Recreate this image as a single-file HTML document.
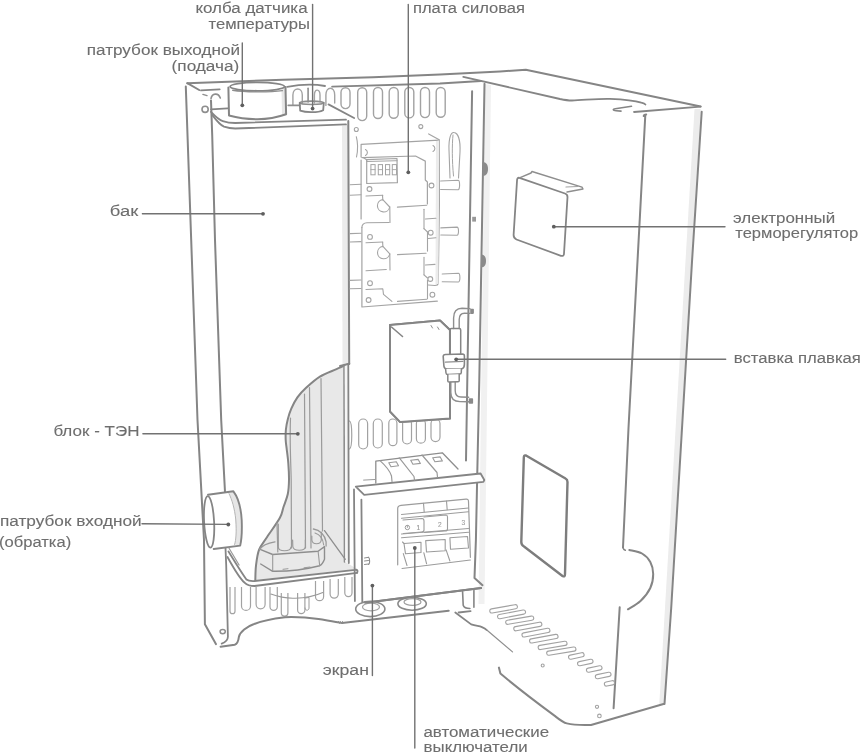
<!DOCTYPE html>
<html><head><meta charset="utf-8"><style>
html,body{margin:0;padding:0;background:#fff;}
svg{display:block;}
text{font-family:"Liberation Sans",sans-serif;font-size:15.2px;fill:#6e6e6e;stroke:#6e6e6e;stroke-width:0.1px;}
svg{filter:grayscale(1);}
</style></head><body>
<svg width="861" height="752" viewBox="0 0 861 752">

<path d="M342,126 L348,125 L348.5,364 L342.5,366 Z" fill="#ebebeb" stroke="none"/>
<path d="M485,84 L491,85 L484.5,604 L478.5,604 Z" fill="#f1f1f1" stroke="none"/>
<path d="M694.5,109 L700.8,109 L664.3,704 L659.3,704 Z" fill="#ececec" stroke="none"/>
<path d="M281.5,88 L285.5,87.5 L286,114 L282,115 Z" fill="#e7e7e7" stroke="none"/>
<path d="M349.2,363.8 C347.08,364.68 341.38,366.97 336.5,369.1 C331.62,371.23 324.97,373.48 319.9,376.6 C314.83,379.72 309.85,384.33 306.1,387.8 C302.35,391.27 299.87,393.92 297.4,397.4 C294.93,400.88 292.90,405.07 291.3,408.7 C289.70,412.33 288.70,415.73 287.8,419.2 C286.90,422.67 286.25,426.03 285.9,429.5 C285.55,432.97 285.58,436.88 285.7,440 C285.82,443.12 286.17,444.35 286.6,448.2 C287.03,452.05 287.90,457.80 288.3,463.1 C288.70,468.40 289.08,474.85 289,480 C288.92,485.15 288.72,489.50 287.8,494 C286.88,498.50 284.82,503.03 283.5,507 C282.18,510.97 282.63,512.80 279.9,517.8 C277.17,522.80 270.57,531.68 267.1,537 C263.63,542.32 260.95,544.92 259.1,549.7 C257.25,554.48 256.63,560.65 256,565.7 C255.37,570.75 255.42,577.62 255.3,580 L357,569 L345.5,562 L345,364 Z" fill="#e8e8e8" stroke="none"/>
<path d="M185.8,86.5 L191.2,240 L197.5,420 L204,540 L204.9,624.3 L215.9,644.1" fill="none" stroke="#858585" stroke-width="2" stroke-linecap="round" stroke-linejoin="round" />
<path d="M187.3,83.2 L283,79.8 L373,77.2 L440,74.4 L500,71.5 L525.8,69.8 L700.6,106.5" fill="none" stroke="#858585" stroke-width="2" stroke-linecap="round" stroke-linejoin="round" />
<path d="M187.3,83.2 L199.2,90" fill="none" stroke="#858585" stroke-width="2" stroke-linecap="round" stroke-linejoin="round" />
<path d="M201,90.4 L219.7,89.4" fill="none" stroke="#858585" stroke-width="1.8" stroke-linecap="round" stroke-linejoin="round" />
<path d="M202.9,94.4 L207,95.6" fill="none" stroke="#8e8e8e" stroke-width="1.4" stroke-linecap="round" stroke-linejoin="round" />
<path d="M211,98.5 C212,93.5 218,92 220.3,98" fill="none" stroke="#8e8e8e" stroke-width="1.6" stroke-linecap="round" stroke-linejoin="round" />
<circle cx="205.1" cy="109.3" r="3.1" fill="none" stroke="#8e8e8e" stroke-width="1.6"/>
<path d="M211,109.3 L227.7,108.3" fill="none" stroke="#858585" stroke-width="1.8" stroke-linecap="round" stroke-linejoin="round" />
<path d="M287.2,86.8 C300,84.5 315,84.2 325,86" fill="none" stroke="#858585" stroke-width="1.8" stroke-linecap="round" stroke-linejoin="round" />
<path d="M332.1,86.6 L440,83.5 L481,81" fill="none" stroke="#858585" stroke-width="1.8" stroke-linecap="round" stroke-linejoin="round" />
<path d="M463.3,76.8 L560,99 C565,100 568,100.6 572,100.5 C585,100 600,98.5 610,98.9 C625,99.5 636,101 641.3,102.7 C643.5,103.3 645,104 645.4,104.5" fill="none" stroke="#858585" stroke-width="1.8" stroke-linecap="round" stroke-linejoin="round" />
<path d="M634,112 L700.6,106.6" fill="none" stroke="#858585" stroke-width="1.8" stroke-linecap="round" stroke-linejoin="round" />
<path d="M631.5,106.3 L615.3,108.7 C612.5,109.2 612.5,110.5 616.1,110.8 L621,111.1" fill="none" stroke="#858585" stroke-width="1.6" stroke-linecap="round" stroke-linejoin="round" />
<path d="M211,100.6 L212.2,135 L215,240 L221.2,420 L225,492" fill="none" stroke="#858585" stroke-width="2" stroke-linecap="round" stroke-linejoin="round" />
<path d="M211,111.8 C215,116 219,120 222.8,121.1 C227,122.5 231,123 235.2,123 L346,119.7" fill="none" stroke="#858585" stroke-width="1.8" stroke-linecap="round" stroke-linejoin="round" />
<path d="M212.2,114.9 C216,120 220,125 224,126.7 C228,128 231,128.5 235.2,128.5 L346,124.4" fill="none" stroke="#858585" stroke-width="1.8" stroke-linecap="round" stroke-linejoin="round" />
<path d="M348.3,121 L349.2,363.8" fill="none" stroke="#858585" stroke-width="2" stroke-linecap="round" stroke-linejoin="round" />
<path d="M349.2,363.8 C347.08,364.68 341.38,366.97 336.5,369.1 C331.62,371.23 324.97,373.48 319.9,376.6 C314.83,379.72 309.85,384.33 306.1,387.8 C302.35,391.27 299.87,393.92 297.4,397.4 C294.93,400.88 292.90,405.07 291.3,408.7 C289.70,412.33 288.70,415.73 287.8,419.2 C286.90,422.67 286.25,426.03 285.9,429.5 C285.55,432.97 285.58,436.88 285.7,440 C285.82,443.12 286.17,444.35 286.6,448.2 C287.03,452.05 287.90,457.80 288.3,463.1 C288.70,468.40 289.08,474.85 289,480 C288.92,485.15 288.72,489.50 287.8,494 C286.88,498.50 284.82,503.03 283.5,507 C282.18,510.97 282.63,512.80 279.9,517.8 C277.17,522.80 270.57,531.68 267.1,537 C263.63,542.32 260.95,544.92 259.1,549.7 C257.25,554.48 256.63,560.65 256,565.7 C255.37,570.75 255.42,577.62 255.3,580" fill="none" stroke="#858585" stroke-width="2" stroke-linecap="round" stroke-linejoin="round" />
<path d="M349.2,363.8 L340,366" fill="none" stroke="#858585" stroke-width="2" stroke-linecap="round" stroke-linejoin="round" />
<path d="M228.4,87.5 L229,115.5 C240,118.5 250,119.2 257.6,119.2 C266,119.2 277,117.5 286.1,114.3 L285.5,86.9" fill="none" stroke="#858585" stroke-width="2" stroke-linecap="round" stroke-linejoin="round" />
<ellipse cx="257.3" cy="86.6" rx="27.2" ry="4.2" fill="none" stroke="#858585" stroke-width="1.8"/>
<path d="M232.7,90.3 C245,92.3 270,92.3 282.4,90.6" fill="none" stroke="#8e8e8e" stroke-width="1.4" stroke-linecap="round" stroke-linejoin="round" />
<path d="M292.9,105.4 L292.9,95 C293,87 302.3,87 302.3,95 L302.3,103" fill="none" stroke="#a2a2a2" stroke-width="1.4" stroke-linecap="round" stroke-linejoin="round" />
<path d="M314.4,103 L314.4,95 C314.5,88 320,89 320,95 L320,102" fill="none" stroke="#a2a2a2" stroke-width="1.4" stroke-linecap="round" stroke-linejoin="round" />
<path d="M308.1,88.2 L308.1,102" fill="none" stroke="#8e8e8e" stroke-width="1.6" stroke-linecap="round" stroke-linejoin="round" />
<path d="M288.2,105.4 L299.7,105.4" fill="none" stroke="#8e8e8e" stroke-width="1.6" stroke-linecap="round" stroke-linejoin="round" />
<ellipse cx="311.7" cy="102.8" rx="12" ry="1.7" fill="none" stroke="#8e8e8e" stroke-width="1.6"/>
<path d="M299.7,102.8 L300.2,110.7 C306,112.8 318,112.8 323.2,110.2 L323.8,102.8" fill="none" stroke="#858585" stroke-width="1.8" stroke-linecap="round" stroke-linejoin="round" />
<path d="M325.9,105.4 L325.9,95 C326,86 334.7,86 334.7,95 L334.7,103" fill="none" stroke="#a2a2a2" stroke-width="1.4" stroke-linecap="round" stroke-linejoin="round" />
<path d="M328.5,104.4 L354.1,118" fill="none" stroke="#858585" stroke-width="1.8" stroke-linecap="round" stroke-linejoin="round" />
<rect x="341" y="87.7" width="9" height="20.89999999999999" rx="4.5" ry="4.5" fill="none" stroke="#a2a2a2" stroke-width="1.4"/>
<rect x="357.7" y="87.7" width="9" height="32.89999999999999" rx="4.5" ry="4.5" fill="none" stroke="#a2a2a2" stroke-width="1.4"/>
<rect x="373.5" y="87.5" width="9" height="31.0" rx="4.5" ry="4.5" fill="none" stroke="#a2a2a2" stroke-width="1.4"/>
<rect x="389.2" y="87.5" width="9" height="30.700000000000003" rx="4.5" ry="4.5" fill="none" stroke="#a2a2a2" stroke-width="1.4"/>
<rect x="404.8" y="87.5" width="9" height="30.400000000000006" rx="4.5" ry="4.5" fill="none" stroke="#a2a2a2" stroke-width="1.4"/>
<rect x="420.5" y="87.5" width="9" height="30.099999999999994" rx="4.5" ry="4.5" fill="none" stroke="#a2a2a2" stroke-width="1.4"/>
<rect x="436.2" y="87.5" width="9" height="29.799999999999997" rx="4.5" ry="4.5" fill="none" stroke="#a2a2a2" stroke-width="1.4"/>
<path d="M472.1,91.2 L467.3,380 L466,460.5" fill="none" stroke="#858585" stroke-width="2" stroke-linecap="round" stroke-linejoin="round" />
<path d="M484.5,83.7 L479.3,380 L477.3,471.8 L475.9,540 L474.5,577.9 L482.5,585.2" fill="none" stroke="#858585" stroke-width="2" stroke-linecap="round" stroke-linejoin="round" />
<path d="M482.6,162 C486.5,162 488,165 488,169 C488,173 486.5,176 482.6,176 Z" fill="#8a8a8a"/>
<path d="M481,254.5 C484.8,254.5 486,257.5 486,261 C486,264.5 484.8,267.5 481,267.5 Z" fill="#8a8a8a"/>
<rect x="472.2" y="216.8" width="3.8" height="4.8" fill="#999"/>
<path d="M701.7,111.7 L692.1,260 L682.5,420 L671.2,608 L664.5,704" fill="none" stroke="#858585" stroke-width="2" stroke-linecap="round" stroke-linejoin="round" />
<path d="M643.7,116 C643.8,114.8 644.8,114.4 646.2,114.4 M645.3,115 L640,214.9 L628.5,428 L623,547.5" fill="none" stroke="#858585" stroke-width="2" stroke-linecap="round" stroke-linejoin="round" />
<path d="M629.3,550 C631.42,550.58 638.50,551.50 642,553.5 C645.50,555.50 648.43,558.58 650.3,562 C652.17,565.42 653.20,569.67 653.2,574 C653.20,578.33 652.42,583.50 650.3,588 C648.18,592.50 644.23,597.45 640.5,601 C636.77,604.55 630.00,607.92 627.9,609.3" fill="none" stroke="#858585" stroke-width="2" stroke-linecap="round" stroke-linejoin="round" />
<path d="M623,547.5 C623.2,549 624,549.8 625.3,550.2" fill="none" stroke="#858585" stroke-width="1.6" stroke-linecap="round" stroke-linejoin="round" />
<path d="M619.7,607.2 L613.6,708.3" fill="none" stroke="#858585" stroke-width="2" stroke-linecap="round" stroke-linejoin="round" />
<path d="M498.9,667.6 L500.4,673.6 C520,690 540,705 554.8,715.9 C560,720 563,722.5 566.8,723.4 C575,725.5 585,725.2 591,725 L663.5,704" fill="none" stroke="#858585" stroke-width="2" stroke-linecap="round" stroke-linejoin="round" />
<path d="M455.3,612.5 L471.2,624.4 C476,626 479,626 481.9,627.1 C484,628 485.5,628.8 486.5,629.8" fill="none" stroke="#858585" stroke-width="1.8" stroke-linecap="round" stroke-linejoin="round" />
<path d="M486.5,629.8 L512.5,651.9" fill="none" stroke="#8e8e8e" stroke-width="1.2" stroke-linecap="round" stroke-linejoin="round" />
<path d="M458.6,612.5 L470.6,611.1" fill="none" stroke="#858585" stroke-width="1.8" stroke-linecap="round" stroke-linejoin="round" />
<rect x="489.8" y="609.2" width="28.0" height="4.2" rx="2.1" ry="2.1" fill="none" stroke="#a2a2a2" stroke-width="1.1" transform="rotate(-10.1 489.8 611.3)"/>
<rect x="497.6" y="614.9" width="28.4" height="4.2" rx="2.1" ry="2.1" fill="none" stroke="#a2a2a2" stroke-width="1.1" transform="rotate(-10.8 497.6 617.0)"/>
<rect x="505.7" y="620.5" width="28.4" height="4.2" rx="2.1" ry="2.1" fill="none" stroke="#a2a2a2" stroke-width="1.1" transform="rotate(-9.7 505.7 622.6)"/>
<rect x="513.8" y="627.0" width="28.5" height="4.2" rx="2.1" ry="2.1" fill="none" stroke="#a2a2a2" stroke-width="1.1" transform="rotate(-10.5 513.8 629.1)"/>
<rect x="522.0" y="633.2" width="28.4" height="4.2" rx="2.1" ry="2.1" fill="none" stroke="#a2a2a2" stroke-width="1.1" transform="rotate(-10.8 522.0 635.3)"/>
<rect x="529.6" y="639.2" width="28.9" height="4.2" rx="2.1" ry="2.1" fill="none" stroke="#a2a2a2" stroke-width="1.1" transform="rotate(-10.4 529.6 641.3)"/>
<rect x="538.2" y="645.7" width="29.2" height="4.2" rx="2.1" ry="2.1" fill="none" stroke="#a2a2a2" stroke-width="1.1" transform="rotate(-9.5 538.2 647.8)"/>
<rect x="546.7" y="651.4" width="29.6" height="4.2" rx="2.1" ry="2.1" fill="none" stroke="#a2a2a2" stroke-width="1.1" transform="rotate(-9.3 546.7 653.5)"/>
<rect x="568.6" y="655.5" width="15.8" height="4.2" rx="2.1" ry="2.1" fill="none" stroke="#a2a2a2" stroke-width="1.1" transform="rotate(-12.0 568.6 657.6)"/>
<rect x="577.6" y="662.0" width="15.7" height="4.2" rx="2.1" ry="2.1" fill="none" stroke="#a2a2a2" stroke-width="1.1" transform="rotate(-11.7 577.6 664.1)"/>
<rect x="586.5" y="668.5" width="15.8" height="4.2" rx="2.1" ry="2.1" fill="none" stroke="#a2a2a2" stroke-width="1.1" transform="rotate(-11.7 586.5 670.6)"/>
<rect x="595.4" y="675.0" width="15.9" height="4.2" rx="2.1" ry="2.1" fill="none" stroke="#a2a2a2" stroke-width="1.1" transform="rotate(-11.6 595.4 677.1)"/>
<rect x="604.4" y="682.3" width="10.3" height="4.2" rx="2.1" ry="2.1" fill="none" stroke="#a2a2a2" stroke-width="1.1" transform="rotate(-11.2 604.4 684.4)"/>
<circle cx="542.7" cy="665.5" r="1.5" fill="none" stroke="#a2a2a2" stroke-width="1.1"/>
<circle cx="597" cy="706.8" r="1.6" fill="none" stroke="#a2a2a2" stroke-width="1.1"/>
<circle cx="599.4" cy="715.9" r="1.8" fill="none" stroke="#a2a2a2" stroke-width="1.1"/>
<path d="M519.5,177.8 C517.5,177.5 517,179 517,181 L513.6,235 C513.6,237 514.5,238.5 516.5,239.5 L561,255.8 C563,256.3 564,255.5 564,253.5 L567.5,197 C567.5,195 566.5,194 565,193.5 Z" fill="none" stroke="#858585" stroke-width="1.8" stroke-linecap="round" stroke-linejoin="round" />
<path d="M519.5,177.8 L531,173 L532,171.5 L582,187.2 L583,189 L567,192" fill="none" stroke="#8e8e8e" stroke-width="1.4" stroke-linecap="round" stroke-linejoin="round" />
<path d="M566,187 L578,186.5" fill="none" stroke="#a2a2a2" stroke-width="1.2" stroke-linecap="round" stroke-linejoin="round" />
<path d="M526,455.5 C524,455 523.8,456 523.8,458 L521.3,542 C521.3,544 522,545.5 524,546.5 L562.5,576 C564.5,577 565,576 565,574 L567.5,482 C567.5,480.5 567,479.3 565.5,478.5 Z" fill="none" stroke="#7d7d7d" stroke-width="2.4" stroke-linecap="round" stroke-linejoin="round" />
<circle cx="356.3" cy="129.5" r="2" fill="none" stroke="#a4a4a4" stroke-width="1.1"/>
<circle cx="420.8" cy="126.6" r="2" fill="none" stroke="#a4a4a4" stroke-width="1.1"/>
<path d="M356.3,136.7 C358,143 358,150 356.5,157" fill="none" stroke="#a4a4a4" stroke-width="1.1" stroke-linecap="round" stroke-linejoin="round" />
<path d="M428.7,133.9 L439.2,139.8" fill="none" stroke="#a4a4a4" stroke-width="1.2" stroke-linecap="round" stroke-linejoin="round" />
<path d="M361.1,157 L361.1,144.4 L439.2,140.2 L439.4,205 L438.2,283.5 C438,285 437,285.5 435,285.5 L428.2,285" fill="none" stroke="#a4a4a4" stroke-width="1.2" stroke-linecap="round" stroke-linejoin="round" />
<path d="M436,141 L439,140.5 L438.5,284 L435.5,284 Z" fill="#ececec" stroke="none"/>
<path d="M361.1,160 L361.1,219" fill="none" stroke="#a4a4a4" stroke-width="1.2" stroke-linecap="round" stroke-linejoin="round" />
<path d="M361.9,227.4 L361.9,307 L437.3,301.1" fill="none" stroke="#a4a4a4" stroke-width="1.2" stroke-linecap="round" stroke-linejoin="round" />
<path d="M365.5,149.5 C368,151 368,154 365.5,155.5" fill="none" stroke="#a4a4a4" stroke-width="1.1" stroke-linecap="round" stroke-linejoin="round" />
<path d="M433,145.5 C435.5,147 435.5,150 433,151.5" fill="none" stroke="#a4a4a4" stroke-width="1.1" stroke-linecap="round" stroke-linejoin="round" />
<path d="M361.8,157.6 L415.5,156 L425.3,161.1 L425.3,180 L427.4,182 L427.4,204" fill="none" stroke="#a4a4a4" stroke-width="1.2" stroke-linecap="round" stroke-linejoin="round" />
<path d="M363.5,157.8 L366.7,159.7 L397,158.5 L397.4,182.7 L366.7,183.5 L366.7,159.7" fill="none" stroke="#a4a4a4" stroke-width="1.2" stroke-linecap="round" stroke-linejoin="round" />
<path d="M366.7,159.7 L366.7,161.5 L397.2,160.7" fill="none" stroke="#a4a4a4" stroke-width="1.0" stroke-linecap="round" stroke-linejoin="round" />
<rect x="370.9" y="164.6" width="4.2" height="10.2" fill="none" stroke="#a4a4a4" stroke-width="1"/>
<line x1="370.9" y1="169.6" x2="375.09999999999997" y2="169.6" stroke="#a4a4a4" stroke-width="0.9" stroke-linecap="round"/>
<rect x="378.3" y="164.6" width="4.2" height="10.2" fill="none" stroke="#a4a4a4" stroke-width="1"/>
<line x1="378.3" y1="169.6" x2="382.5" y2="169.6" stroke="#a4a4a4" stroke-width="0.9" stroke-linecap="round"/>
<rect x="385.5" y="164.6" width="4.2" height="10.2" fill="none" stroke="#a4a4a4" stroke-width="1"/>
<line x1="385.5" y1="169.6" x2="389.7" y2="169.6" stroke="#a4a4a4" stroke-width="0.9" stroke-linecap="round"/>
<rect x="392.3" y="164.6" width="4.2" height="10.2" fill="none" stroke="#a4a4a4" stroke-width="1"/>
<line x1="392.3" y1="169.6" x2="396.5" y2="169.6" stroke="#a4a4a4" stroke-width="0.9" stroke-linecap="round"/>
<circle cx="369.5" cy="189" r="2.4" fill="none" stroke="#a4a4a4" stroke-width="1.1"/>
<circle cx="431.5" cy="185.5" r="2.4" fill="none" stroke="#a4a4a4" stroke-width="1.1"/>
<circle cx="370" cy="236.9" r="2.4" fill="none" stroke="#a4a4a4" stroke-width="1.1"/>
<circle cx="430.7" cy="232.7" r="2.4" fill="none" stroke="#a4a4a4" stroke-width="1.1"/>
<circle cx="370" cy="283.2" r="2.4" fill="none" stroke="#a4a4a4" stroke-width="1.1"/>
<circle cx="430.3" cy="279" r="2.4" fill="none" stroke="#a4a4a4" stroke-width="1.1"/>
<circle cx="368.6" cy="300" r="2.4" fill="none" stroke="#a4a4a4" stroke-width="1.1"/>
<circle cx="432.4" cy="294.7" r="2.4" fill="none" stroke="#a4a4a4" stroke-width="1.1"/>
<path d="M382.8,199.6 A6.2,6.2 0 1 0 389.7,207.0 Z" fill="none" stroke="#a4a4a4" stroke-width="1.1" stroke-linecap="round" stroke-linejoin="round" />
<line x1="382.5" y1="195.39999999999998" x2="382.79999999999995" y2="199.6" stroke="#a4a4a4" stroke-width="1.1" stroke-linecap="round"/>
<path d="M382.9,246.4 A6.2,6.2 0 1 0 389.8,253.8 Z" fill="none" stroke="#a4a4a4" stroke-width="1.1" stroke-linecap="round" stroke-linejoin="round" />
<line x1="382.6" y1="242.2" x2="382.9" y2="246.4" stroke="#a4a4a4" stroke-width="1.1" stroke-linecap="round"/>
<line x1="366" y1="196" x2="382.8" y2="195.3" stroke="#a4a4a4" stroke-width="1.1" stroke-linecap="round"/>
<line x1="397.4" y1="207.1" x2="426.7" y2="205.3" stroke="#a4a4a4" stroke-width="1.1" stroke-linecap="round"/>
<line x1="366" y1="242.7" x2="382.8" y2="242" stroke="#a4a4a4" stroke-width="1.1" stroke-linecap="round"/>
<line x1="397.5" y1="254.6" x2="426.1" y2="253.2" stroke="#a4a4a4" stroke-width="1.1" stroke-linecap="round"/>
<line x1="366" y1="270.7" x2="386.3" y2="269.5" stroke="#a4a4a4" stroke-width="1.1" stroke-linecap="round"/>
<line x1="389.8" y1="253.8" x2="390" y2="270" stroke="#a4a4a4" stroke-width="1.1" stroke-linecap="round"/>
<line x1="397.5" y1="301.4" x2="426.8" y2="299.3" stroke="#a4a4a4" stroke-width="1.1" stroke-linecap="round"/>
<line x1="424" y1="209.2" x2="424" y2="228.7" stroke="#a4a4a4" stroke-width="1.1" stroke-linecap="round"/>
<line x1="427.5" y1="232" x2="427.5" y2="251.1" stroke="#a4a4a4" stroke-width="1.1" stroke-linecap="round"/>
<line x1="424" y1="257.4" x2="424" y2="274.8" stroke="#a4a4a4" stroke-width="1.1" stroke-linecap="round"/>
<line x1="427.5" y1="280" x2="427.5" y2="298.6" stroke="#a4a4a4" stroke-width="1.1" stroke-linecap="round"/>
<line x1="425.4" y1="219" x2="435.9" y2="218.3" stroke="#a4a4a4" stroke-width="1.1" stroke-linecap="round"/>
<line x1="428.2" y1="238.5" x2="435.9" y2="237.8" stroke="#a4a4a4" stroke-width="1.1" stroke-linecap="round"/>
<line x1="425.4" y1="265" x2="435" y2="264.4" stroke="#a4a4a4" stroke-width="1.1" stroke-linecap="round"/>
<line x1="350" y1="184.8" x2="361" y2="184.3" stroke="#a4a4a4" stroke-width="1.1" stroke-linecap="round"/>
<line x1="350" y1="195.3" x2="361" y2="194.8" stroke="#a4a4a4" stroke-width="1.1" stroke-linecap="round"/>
<line x1="350" y1="233.6" x2="361" y2="233.2" stroke="#a4a4a4" stroke-width="1.1" stroke-linecap="round"/>
<line x1="350" y1="242" x2="361" y2="241.6" stroke="#a4a4a4" stroke-width="1.1" stroke-linecap="round"/>
<line x1="350" y1="280.4" x2="361" y2="280" stroke="#a4a4a4" stroke-width="1.1" stroke-linecap="round"/>
<line x1="350" y1="288.8" x2="361" y2="288.5" stroke="#a4a4a4" stroke-width="1.1" stroke-linecap="round"/>
<line x1="389.8" y1="206.8" x2="390" y2="222.5" stroke="#a4a4a4" stroke-width="1.1" stroke-linecap="round"/>
<path d="M361.9,227.4 C362,224 364,223 367,222.8 L389.1,222.5" fill="none" stroke="#a4a4a4" stroke-width="1.1" stroke-linecap="round" stroke-linejoin="round" />
<path d="M424,228.7 L427.5,232" fill="none" stroke="#a4a4a4" stroke-width="1.1" stroke-linecap="round" stroke-linejoin="round" />
<path d="M424,274.8 L427.5,278" fill="none" stroke="#a4a4a4" stroke-width="1.1" stroke-linecap="round" stroke-linejoin="round" />
<path d="M366,289.5 L382.8,288.8 L383.5,294.4 L391.9,301.4" fill="none" stroke="#a4a4a4" stroke-width="1.1" stroke-linecap="round" stroke-linejoin="round" />
<path d="M440.6,181.0 L458.1,180.2 C460.1,180.2 460.1,189.8 458.1,189.7 L440.6,189.5" fill="none" stroke="#a4a4a4" stroke-width="1.1" stroke-linecap="round" stroke-linejoin="round" />
<path d="M440.8,227.9 L457,227.1 C459,227.1 459,235.3 457,235.2 L440.8,235" fill="none" stroke="#a4a4a4" stroke-width="1.1" stroke-linecap="round" stroke-linejoin="round" />
<path d="M442.2,274.0 L458.4,273.2 C460.4,273.2 460.4,282.1 458.4,282.0 L442.2,281.8" fill="none" stroke="#a4a4a4" stroke-width="1.1" stroke-linecap="round" stroke-linejoin="round" />
<path d="M450,178 L449,150 C448.5,138 451,132 454,132.5 C458,133 460.5,140 460,152 L458.5,178" fill="none" stroke="#a4a4a4" stroke-width="1.1" stroke-linecap="round" stroke-linejoin="round" />
<path d="M453,135 C452,145 452,160 453.5,176" fill="none" stroke="#a4a4a4" stroke-width="1.0" stroke-linecap="round" stroke-linejoin="round" />
<path d="M390,325 L440,320.5 L450,330 L450,418.5 L400.2,422.1 L390,411.5 Z" fill="none" stroke="#858585" stroke-width="2" stroke-linecap="round" stroke-linejoin="round" />
<path d="M391.5,327 L402.5,336.5" fill="none" stroke="#858585" stroke-width="1.6" stroke-linecap="round" stroke-linejoin="round" />
<path d="M431,325.5 L432.5,328 M437.5,327 L439,329.5" fill="none" stroke="#8e8e8e" stroke-width="1.0" stroke-linecap="round" stroke-linejoin="round" />
<rect x="358.7" y="419" width="8.900000000000034" height="30" rx="4.450000000000017" ry="4.450000000000017" fill="none" stroke="#a2a2a2" stroke-width="1.2"/>
<rect x="373.3" y="419" width="9.0" height="29" rx="4.5" ry="4.5" fill="none" stroke="#a2a2a2" stroke-width="1.2"/>
<rect x="388.8" y="419" width="8.099999999999966" height="26.69999999999999" rx="4.049999999999983" ry="4.049999999999983" fill="none" stroke="#a2a2a2" stroke-width="1.2"/>
<rect x="402.6" y="419" width="8.899999999999977" height="25" rx="4.449999999999989" ry="4.449999999999989" fill="none" stroke="#a2a2a2" stroke-width="1.2"/>
<rect x="416.4" y="419" width="9.0" height="24.19999999999999" rx="4.5" ry="4.5" fill="none" stroke="#a2a2a2" stroke-width="1.2"/>
<rect x="431" y="419" width="9" height="22.600000000000023" rx="4.5" ry="4.5" fill="none" stroke="#a2a2a2" stroke-width="1.2"/>
<path d="M349.5,421 C352.5,422 352.5,448 349.5,449" fill="none" stroke="#a2a2a2" stroke-width="1.2" stroke-linecap="round" stroke-linejoin="round" />
<path d="M390.5,325.5 L440,321 L449.5,330.5 L449.5,418 L400.5,421.5 L390.5,411 Z" fill="#fff" stroke="none"/>
<path d="M390,325 L440,320.5 L450,330 L450,418.5 L400.2,422.1 L390,411.5 Z" fill="none" stroke="#858585" stroke-width="2" stroke-linecap="round" stroke-linejoin="round" />
<path d="M391.5,327 L402.5,336.5" fill="none" stroke="#858585" stroke-width="1.6" stroke-linecap="round" stroke-linejoin="round" />
<path d="M431,325.5 L432.5,328 M437.5,327 L439,329.5" fill="none" stroke="#8e8e8e" stroke-width="1.0" stroke-linecap="round" stroke-linejoin="round" />
<rect x="470.2" y="308.8" width="3.7" height="5.1" rx="0.8" fill="#8a8a8a"/>
<rect x="468.7" y="398.2" width="4.4" height="5.6" rx="0.8" fill="#8a8a8a"/>
<path d="M453.6,328.5 L453.6,318 C453.6,311.5 457,308.2 462,308.2 L470,308.6" fill="none" stroke="#8e8e8e" stroke-width="1.4" stroke-linecap="round" stroke-linejoin="round" />
<path d="M459.2,328.5 L459.2,319.5 C459.2,315.5 461,313.2 464.5,313.2 L470,313.4" fill="none" stroke="#8e8e8e" stroke-width="1.4" stroke-linecap="round" stroke-linejoin="round" />
<path d="M450.8,381.9 L450.8,392.5 C450.8,398.5 454.5,401.6 460,401.6 L468.7,401.8" fill="none" stroke="#8e8e8e" stroke-width="1.4" stroke-linecap="round" stroke-linejoin="round" />
<path d="M455.2,381.9 L455.2,390.5 C455.2,394.5 457.5,397 461,397 L468.7,397.2" fill="none" stroke="#8e8e8e" stroke-width="1.4" stroke-linecap="round" stroke-linejoin="round" />
<path d="M449.7,353.4 L449.7,330 C449.7,329 450.5,328.5 451.5,328.5 L459.2,328.5 C460.2,328.5 460.7,329 460.7,330 L460.7,353.4" fill="none" stroke="#858585" stroke-width="1.5" stroke-linecap="round" stroke-linejoin="round" />
<path d="M445.5,354.5 L462.5,354 C463.8,354 464.4,354.8 464.4,356 L464.4,364.3 C464.4,366.5 463.5,368.2 462,368.7 L446.5,369 C444.8,368.6 444,367.5 443.9,366 L443.2,356.5 C443.2,355.3 444,354.6 445.5,354.5 Z" fill="#fff" stroke="#858585" stroke-width="1.6" stroke-linecap="round" stroke-linejoin="round" />
<path d="M445.4,362.1 L462.9,361.4" fill="none" stroke="#8e8e8e" stroke-width="1.3" stroke-linecap="round" stroke-linejoin="round" />
<path d="M445.6,369 L446,373 C446.1,374 446.8,374.6 447.8,374.6 L459.7,374 C460.7,374 461.3,373.5 461.3,372.5 L461.4,368.8" fill="#fff" stroke="#858585" stroke-width="1.5" stroke-linecap="round" stroke-linejoin="round" />
<path d="M447.8,374.6 L447.8,381 C447.8,381.7 448.3,382 449,382 L458,381.8 C458.7,381.8 459.2,381.4 459.2,380.8 L459.2,374.2" fill="#fff" stroke="#858585" stroke-width="1.5" stroke-linecap="round" stroke-linejoin="round" />
<path d="M290.5,418 C289.5,440 290.8,460 291.2,480 L291.5,548" fill="none" stroke="#9a9a9a" stroke-width="1.2" stroke-linecap="round" stroke-linejoin="round" />
<path d="M304.5,394 L305.5,548" fill="none" stroke="#9a9a9a" stroke-width="1.2" stroke-linecap="round" stroke-linejoin="round" />
<path d="M309.5,387.5 L311,548" fill="none" stroke="#9a9a9a" stroke-width="1.2" stroke-linecap="round" stroke-linejoin="round" />
<path d="M321,378.5 L322.5,531" fill="none" stroke="#9a9a9a" stroke-width="1.2" stroke-linecap="round" stroke-linejoin="round" />
<path d="M277,523 L277.8,552" fill="none" stroke="#9a9a9a" stroke-width="1.2" stroke-linecap="round" stroke-linejoin="round" />
<path d="M344,366 L344.5,562" fill="none" stroke="#8e8e8e" stroke-width="1.6" stroke-linecap="round" stroke-linejoin="round" />
<path d="M344.8,366 L347.8,365 L348.3,562 L345.3,562 Z" fill="#f6f6f6" stroke="none"/>
<path d="M348.3,364 L348.8,563" fill="none" stroke="#858585" stroke-width="1.8" stroke-linecap="round" stroke-linejoin="round" />
<path d="M324.5,530.6 L345.3,559.3" fill="none" stroke="#8e8e8e" stroke-width="1.3" stroke-linecap="round" stroke-linejoin="round" />
<path d="M278.3,524 L278.3,547 C278.5,552 290.5,552 291,547" fill="none" stroke="#9a9a9a" stroke-width="1.2" stroke-linecap="round" stroke-linejoin="round" />
<path d="M292.6,540 L292.8,546.5 C293.5,551.5 305,551.5 305.4,546.5 L305.4,540" fill="none" stroke="#9a9a9a" stroke-width="1.2" stroke-linecap="round" stroke-linejoin="round" />
<path d="M311.8,536 L311.8,540 C312.5,545 320.5,545 321.3,540 L321.3,532" fill="none" stroke="#9a9a9a" stroke-width="1.2" stroke-linecap="round" stroke-linejoin="round" />
<path d="M259.5,549.5 C262,545.5 268,543 275,541.8 M313.4,529 C320,530 325,535 326.1,541.8 L326.1,546" fill="none" stroke="#9a9a9a" stroke-width="1.3" stroke-linecap="round" stroke-linejoin="round" />
<path d="M315,533 C320,534.5 323,539 323.7,545" fill="none" stroke="#9a9a9a" stroke-width="1.1" stroke-linecap="round" stroke-linejoin="round" />
<path d="M260.7,549.7 L272.7,554.5 L318.1,551.3 L324.5,546.6 L324.5,559.3 C323,563 321.5,565 319.7,565.7 C305,569.5 288,571.5 272.7,571.3 L260.7,564 Z" fill="#e9e9e9" stroke="none"/>
<path d="M260.7,549.7 L272.7,554.5 L318.1,551.3 L324.5,546.6 L324.5,559.3 C323,563 321.5,565 319.7,565.7 C305,569.5 288,571.5 272.7,571.3 L260.7,564" fill="none" stroke="#8e8e8e" stroke-width="1.4" stroke-linecap="round" stroke-linejoin="round" />
<path d="M272.7,554.5 L272.7,571.3 M318.1,551.3 L319.7,565.7" fill="none" stroke="#9a9a9a" stroke-width="1.1" stroke-linecap="round" stroke-linejoin="round" />
<path d="M283,569.3 L288,568.7 M304,567.8 L310,567" fill="none" stroke="#9a9a9a" stroke-width="1.0" stroke-linecap="round" stroke-linejoin="round" />
<path d="M228.5,551.5 C235,562 241,572 246.4,579.5 C248,580.8 250.5,581.2 254.5,581 L355.3,569.8 C357.5,569.5 358,571 357,572.8" fill="none" stroke="#858585" stroke-width="1.8" stroke-linecap="round" stroke-linejoin="round" />
<path d="M227.5,557 C233,567 239,578 244.8,582.8 C247,585 250,586 254.5,586 L357,572.8" fill="none" stroke="#858585" stroke-width="1.8" stroke-linecap="round" stroke-linejoin="round" />
<path d="M230,587 L230,611.2 A2.5,2.5 0 0 0 235,611.2 L235,587" fill="none" stroke="#a2a2a2" stroke-width="1.2"/>
<path d="M241.5,587 L241.5,605.9 A4.5,4.5 0 0 0 250.5,605.9 L250.5,587" fill="none" stroke="#a2a2a2" stroke-width="1.2"/>
<path d="M256.1,587 L256.1,604.3 A4.5,4.5 0 0 0 265.1,604.3 L265.1,587" fill="none" stroke="#a2a2a2" stroke-width="1.2"/>
<path d="M270,587 L270,606.75 A3.6500000000000057,3.6500000000000057 0 0 0 277.3,606.75 L277.3,587" fill="none" stroke="#a2a2a2" stroke-width="1.2"/>
<path d="M281.3,593 L281.3,612.8000000000001 A3.299999999999983,3.299999999999983 0 0 0 287.9,612.8000000000001 L287.9,593" fill="none" stroke="#a2a2a2" stroke-width="1.2"/>
<path d="M297.6,593 L297.6,610.0500000000001 A3.6499999999999773,3.6499999999999773 0 0 0 304.9,610.0500000000001 L304.9,593" fill="none" stroke="#a2a2a2" stroke-width="1.2"/>
<path d="M315.5,581 L315.5,596.6500000000001 A4.050000000000011,4.050000000000011 0 0 0 323.6,596.6500000000001 L323.6,581" fill="none" stroke="#a2a2a2" stroke-width="1.2"/>
<path d="M330.1,579 L330.1,594.1 A4.099999999999994,4.099999999999994 0 0 0 338.3,594.1 L338.3,579" fill="none" stroke="#a2a2a2" stroke-width="1.2"/>
<path d="M344.8,577 L344.8,593.0 A3.5999999999999943,3.5999999999999943 0 0 0 352,593.0 L352,577" fill="none" stroke="#a2a2a2" stroke-width="1.2"/>
<path d="M270.8,594.1 C280,597.5 288,598.5 295.2,598.2 C305,598 315,596 322.8,592.5" fill="none" stroke="#9a9a9a" stroke-width="1.1" stroke-linecap="round" stroke-linejoin="round" />
<path d="M304.9,598 L309,597.5 L309,608 C309,611 305,611 305,608" fill="none" stroke="#9a9a9a" stroke-width="1.0" stroke-linecap="round" stroke-linejoin="round" />
<path d="M225.5,548 L226.2,565 L227.9,636.8 C227.8,640 225,642.5 221.7,643.6" fill="none" stroke="#858585" stroke-width="1.8" stroke-linecap="round" stroke-linejoin="round" />
<ellipse cx="222.7" cy="631.6" rx="2.6" ry="2.1" fill="none" stroke="#8e8e8e" stroke-width="1.5"/>
<path d="M220.6,646.7 L234.7,644.7 C237.5,643.8 238.5,640 238.9,636.8 C240,632 247,626.5 253.5,624.3 C260,621.5 270,619 285,617.2 C298,616.8 310,617.8 318.5,619 C326,620.2 334,621.8 342,622.9 L448.7,610.7" fill="none" stroke="#858585" stroke-width="2" stroke-linecap="round" stroke-linejoin="round" />
<path d="M338.5,621.5 L339.5,623.5 L340.5,621.5 L341.5,623.5 L342.5,621.5" fill="none" stroke="#8e8e8e" stroke-width="1.0" stroke-linecap="round" stroke-linejoin="round" />
<path d="M229,493.6 C232,500 234.6,508 235.5,520 C236.5,532 236,540 234.6,544.5 L240.2,545.6 C241.5,540 242,530 241.4,518.4 C240.5,508 239,500 233.4,491.3 Z" fill="#e6e6e6" stroke="none"/>
<path d="M208,494.7 L233.4,491.3 C239,500 241,510 241.6,520 C242,532 241.5,540 240.2,545.6 L213.7,549 L209,548 Z" fill="rgba(255,255,255,0)" stroke="none"/>
<ellipse cx="209.1" cy="521.8" rx="5" ry="25.8" transform="rotate(-3 209.1 521.8)" fill="#fff" stroke="#858585" stroke-width="1.8"/>
<path d="M208,494.7 L233.4,491.3 C238.5,498 241,508 241.7,520 C242.2,532 241.5,540 240.2,545.6 L213.7,549" fill="none" stroke="#858585" stroke-width="1.9" stroke-linecap="round" stroke-linejoin="round" />
<path d="M229,493.6 C232,500 234.6,508 235.8,520 C236.6,532 236,540 234.6,544.5" fill="none" stroke="#b5b5b5" stroke-width="1.0" stroke-linecap="round" stroke-linejoin="round" />
<path d="M228.9,548 L239.1,565" fill="none" stroke="#9a9a9a" stroke-width="1.2" stroke-linecap="round" stroke-linejoin="round" />
<path d="M355.8,486.6 L480.6,473.5 L484.3,480 L483.4,481.9 L364.2,494.9 Z" fill="#fff" stroke="none"/>
<path d="M355.8,486.6 L480.6,473.5 L484.3,480 L483.4,481.9 L364.2,494.9 Z" fill="none" stroke="#858585" stroke-width="1.8" stroke-linecap="round" stroke-linejoin="round" />
<path d="M354,489.3 L354.9,601" fill="none" stroke="#858585" stroke-width="1.8" stroke-linecap="round" stroke-linejoin="round" />
<path d="M361.4,499.6 L362.3,602" fill="none" stroke="#858585" stroke-width="1.8" stroke-linecap="round" stroke-linejoin="round" />
<path d="M365.1,602.7 L481.1,588.1" fill="none" stroke="#858585" stroke-width="2" stroke-linecap="round" stroke-linejoin="round" />
<path d="M364.5,558 L368.5,557.3 M364.5,561 L368.5,560.5 M364.5,564.5 L368.5,564" fill="none" stroke="#8e8e8e" stroke-width="1.0" stroke-linecap="round" stroke-linejoin="round" />
<path d="M368.5,557.3 C370,558 370,564 368.5,564.5" fill="none" stroke="#8e8e8e" stroke-width="1.1" stroke-linecap="round" stroke-linejoin="round" />
<ellipse cx="370.3" cy="609" rx="14.6" ry="7.6" fill="#fff" stroke="#8a8a8a" stroke-width="1.6"/>
<ellipse cx="371" cy="607" rx="8.5" ry="3.8" fill="none" stroke="#a0a0a0" stroke-width="1.2"/>
<ellipse cx="412.1" cy="603.8" rx="14.2" ry="6.4" fill="#fff" stroke="#8a8a8a" stroke-width="1.6"/>
<ellipse cx="412.5" cy="602" rx="8.5" ry="3.4" fill="none" stroke="#a0a0a0" stroke-width="1.2"/>
<path d="M365.1,602.7 L481.1,588.1" fill="none" stroke="#858585" stroke-width="2" stroke-linecap="round" stroke-linejoin="round" />
<path d="M462.6,591.9 L463.2,605.2 C464,607.5 466,608.5 469.9,608.5" fill="none" stroke="#858585" stroke-width="1.6" stroke-linecap="round" stroke-linejoin="round" />
<path d="M473.9,590.5 L473.9,607.2" fill="none" stroke="#858585" stroke-width="1.6" stroke-linecap="round" stroke-linejoin="round" />
<path d="M375.8,483 L375.8,461.1 L442.3,452.8 L458,469" fill="none" stroke="#8e8e8e" stroke-width="1.3" stroke-linecap="round" stroke-linejoin="round" />
<path d="M380,460.6 C386,466 390,471 391.5,476 L392,481.5" fill="none" stroke="#9a9a9a" stroke-width="1.2" stroke-linecap="round" stroke-linejoin="round" />
<path d="M399.3,457.8 L414,476.5 L414.5,480" fill="none" stroke="#9a9a9a" stroke-width="1.2" stroke-linecap="round" stroke-linejoin="round" />
<path d="M422,455 L437,472.5 L437.5,477" fill="none" stroke="#9a9a9a" stroke-width="1.2" stroke-linecap="round" stroke-linejoin="round" />
<path d="M388.8,462.7 L396.3,461.8 L398.5,465.8 L391.0,466.7 Z" fill="none" stroke="#9a9a9a" stroke-width="1.1" stroke-linecap="round" stroke-linejoin="round" />
<path d="M410.7,460.3 L418.2,459.40000000000003 L420.4,463.40000000000003 L412.9,464.3 Z" fill="none" stroke="#9a9a9a" stroke-width="1.1" stroke-linecap="round" stroke-linejoin="round" />
<path d="M432.7,457.8 L440.2,456.90000000000003 L442.4,460.90000000000003 L434.9,461.8 Z" fill="none" stroke="#9a9a9a" stroke-width="1.1" stroke-linecap="round" stroke-linejoin="round" />
<path d="M363.6,480.1 L375,479.5" fill="none" stroke="#9a9a9a" stroke-width="1.0" stroke-linecap="round" stroke-linejoin="round" />
<path d="M397.7,564.8 L397.7,508.5 C397.7,506.5 399,505.5 401,505.3 L466,499.2 C467.8,499 468.5,499.8 468.5,501.5 L470.4,557.3" fill="none" stroke="#9c9c9c" stroke-width="1.2" stroke-linecap="round" stroke-linejoin="round" />
<path d="M423.5,503.3 L424.2,512 M446.5,501 L447.2,509.8" fill="none" stroke="#9c9c9c" stroke-width="1.1" stroke-linecap="round" stroke-linejoin="round" />
<path d="M401.5,514.5 L468.5,508 M401.5,518.2 L468.5,511.7" fill="none" stroke="#9c9c9c" stroke-width="1.1" stroke-linecap="round" stroke-linejoin="round" />
<path d="M403,520 L422,518.5 C423.5,518.5 424,519.5 424,521 L424,530 C424,531.5 423,532 421.5,532 L403.5,533.5" fill="none" stroke="#9c9c9c" stroke-width="1.1" stroke-linecap="round" stroke-linejoin="round" />
<path d="M424,517 L446,515 C447,515 447.5,516 447.5,517 L447.5,529 C447.5,530.5 446.5,531 445,531 L424.5,532.5" fill="none" stroke="#9c9c9c" stroke-width="1.1" stroke-linecap="round" stroke-linejoin="round" />
<path d="M401.5,534 L468.5,528.5 M401.5,537.8 L468.5,532.2" fill="none" stroke="#9c9c9c" stroke-width="1.1" stroke-linecap="round" stroke-linejoin="round" />
<circle cx="407.4" cy="527.5" r="2.2" fill="none" stroke="#9c9c9c" stroke-width="1"/>
<line x1="407.4" y1="525.5" x2="407.4" y2="527.5" stroke="#9c9c9c" stroke-width="0.9" stroke-linecap="round"/>
<text x="416.5" y="530" style="font-size:6.5px;fill:#9a9a9a">1</text>
<text x="438" y="527" style="font-size:6.5px;fill:#b0b0b0">2</text>
<text x="461.5" y="524.5" style="font-size:6.5px;fill:#b0b0b0">3</text>
<path d="M404,543.5 L421,542.3 L421,552.5 L405.5,553.8 Z" fill="none" stroke="#9c9c9c" stroke-width="1.1" stroke-linecap="round" stroke-linejoin="round" />
<path d="M402.5,542 L404,543.5 M425.7,540.6 L445.2,539.5 L445.2,550.8 L426.5,552 Z" fill="none" stroke="#9c9c9c" stroke-width="1.1" stroke-linecap="round" stroke-linejoin="round" />
<path d="M449.9,537.8 L467.5,536.5 L468.5,548 L450.5,549.2 Z" fill="none" stroke="#9c9c9c" stroke-width="1.1" stroke-linecap="round" stroke-linejoin="round" />
<path d="M403.3,553.6 L407,565.5 M423.8,552.7 L426.6,563.8 M446.1,549.9 L449.9,561" fill="none" stroke="#9c9c9c" stroke-width="1.1" stroke-linecap="round" stroke-linejoin="round" />
<path d="M402,568.5 L470.4,560" fill="none" stroke="#9c9c9c" stroke-width="1.1" stroke-linecap="round" stroke-linejoin="round" />
<text x="195.4" y="13" text-anchor="start" textLength="112.2" lengthAdjust="spacingAndGlyphs">колба датчика</text>
<text x="208.5" y="28.5" text-anchor="start" textLength="101.5" lengthAdjust="spacingAndGlyphs">температуры</text>
<line x1="312.6" y1="4.5" x2="312.6" y2="108.6" stroke="#727272" stroke-width="1.4" stroke-linecap="round"/>
<circle cx="312.6" cy="108.6" r="1.9" fill="#5e5e5e"/>
<text x="86.8" y="55" text-anchor="start" textLength="153.2" lengthAdjust="spacingAndGlyphs">патрубок выходной</text>
<text x="171.6" y="70.8" text-anchor="start" textLength="67.7" lengthAdjust="spacingAndGlyphs">(подача)</text>
<line x1="242.3" y1="43" x2="242.3" y2="105.3" stroke="#727272" stroke-width="1.4" stroke-linecap="round"/>
<circle cx="242.3" cy="105.3" r="1.9" fill="#5e5e5e"/>
<text x="413.0" y="13.3" text-anchor="start" textLength="112.0" lengthAdjust="spacingAndGlyphs">плата  силовая</text>
<line x1="408.3" y1="4.4" x2="408.3" y2="172.3" stroke="#727272" stroke-width="1.4" stroke-linecap="round"/>
<circle cx="408.3" cy="172.3" r="1.9" fill="#5e5e5e"/>
<text x="109.8" y="215.6" text-anchor="start" textLength="28.4" lengthAdjust="spacingAndGlyphs">бак</text>
<line x1="142.4" y1="213.8" x2="263" y2="213.8" stroke="#727272" stroke-width="1.4" stroke-linecap="round"/>
<circle cx="263" cy="213.8" r="1.9" fill="#5e5e5e"/>
<text x="733.1" y="222.6" text-anchor="start" textLength="102.1" lengthAdjust="spacingAndGlyphs">электронный</text>
<text x="735.3" y="237.5" text-anchor="start" textLength="122.9" lengthAdjust="spacingAndGlyphs">терморегулятор</text>
<line x1="553.8" y1="226.7" x2="725" y2="226.7" stroke="#727272" stroke-width="1.4" stroke-linecap="round"/>
<circle cx="553.8" cy="226.7" r="1.9" fill="#5e5e5e"/>
<text x="733.8" y="362.7" text-anchor="start" textLength="127.1" lengthAdjust="spacingAndGlyphs">вставка  плавкая</text>
<line x1="456.2" y1="359.3" x2="725.7" y2="359.3" stroke="#727272" stroke-width="1.4" stroke-linecap="round"/>
<circle cx="456.2" cy="359.3" r="1.9" fill="#5e5e5e"/>
<text x="53.4" y="436.4" text-anchor="start" textLength="86.1" lengthAdjust="spacingAndGlyphs">блок - ТЭН</text>
<line x1="142.9" y1="433.8" x2="297.8" y2="433.8" stroke="#727272" stroke-width="1.4" stroke-linecap="round"/>
<circle cx="297.8" cy="433.8" r="1.9" fill="#5e5e5e"/>
<text x="0.0" y="526.4" text-anchor="start" textLength="141.6" lengthAdjust="spacingAndGlyphs">патрубок входной</text>
<text x="-1.0" y="546.6" text-anchor="start" textLength="72.2" lengthAdjust="spacingAndGlyphs">(обратка)</text>
<line x1="142" y1="523.8" x2="228.3" y2="524.4" stroke="#727272" stroke-width="1.4" stroke-linecap="round"/>
<circle cx="228.3" cy="524.5" r="1.9" fill="#5e5e5e"/>
<text x="322.8" y="674.5" text-anchor="start" textLength="46.1" lengthAdjust="spacingAndGlyphs">экран</text>
<line x1="372.4" y1="585.6" x2="372.4" y2="675.5" stroke="#727272" stroke-width="1.4" stroke-linecap="round"/>
<circle cx="372.4" cy="585.6" r="1.9" fill="#5e5e5e"/>
<text x="423.4" y="736.5" text-anchor="start" textLength="125.7" lengthAdjust="spacingAndGlyphs">автоматические</text>
<text x="423.6" y="752.3" text-anchor="start" textLength="104.1" lengthAdjust="spacingAndGlyphs">выключатели</text>
<line x1="414.8" y1="548" x2="414.8" y2="748" stroke="#727272" stroke-width="1.4" stroke-linecap="round"/>
<circle cx="414.8" cy="548" r="1.9" fill="#5e5e5e"/>
</svg></body></html>
